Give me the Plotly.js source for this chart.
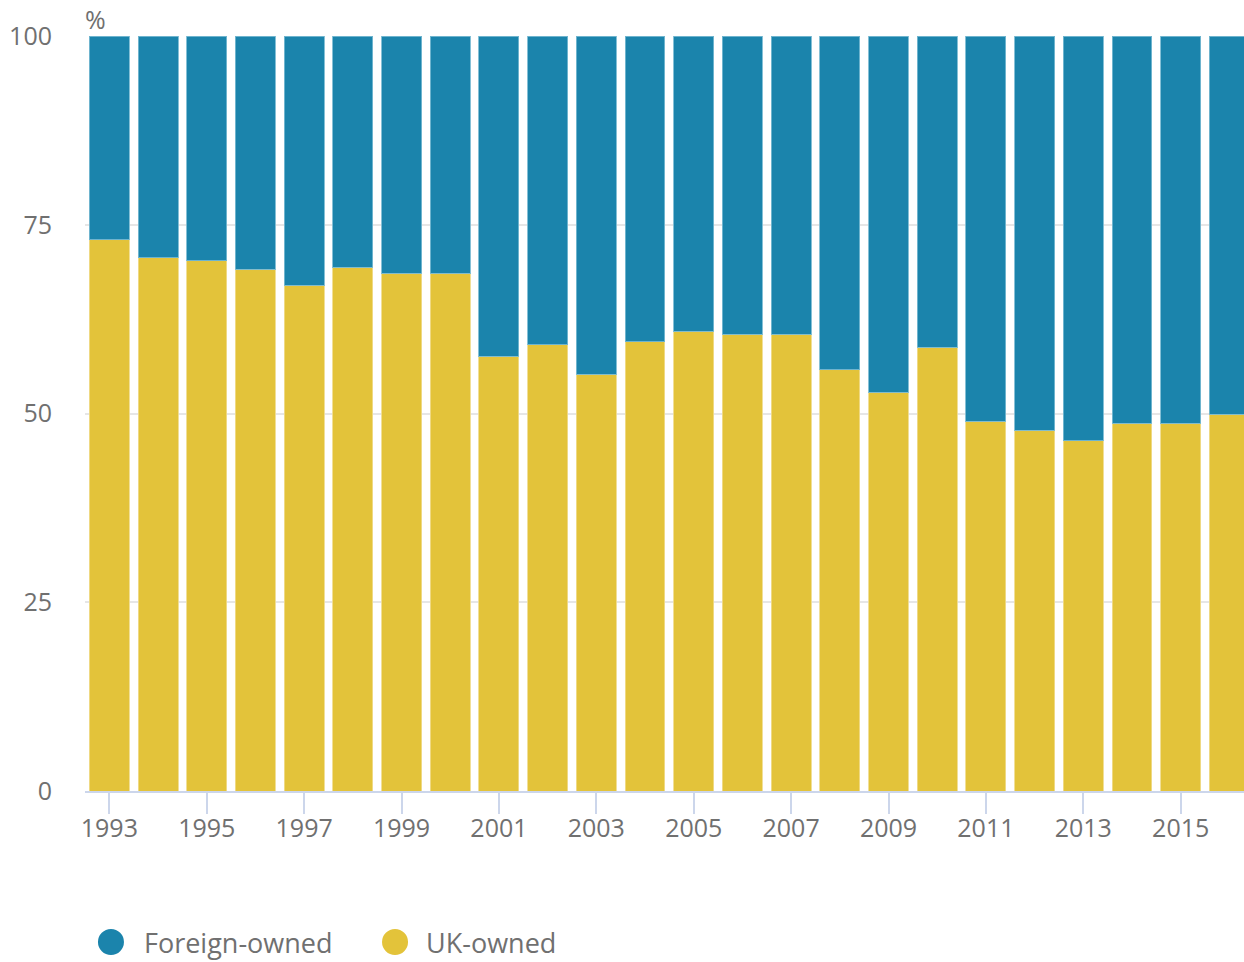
<!DOCTYPE html>
<html>
<head>
<meta charset="utf-8">
<script src="https://cdn.plot.ly/plotly-3.0.1.min.js"></script>
<style>html,body{margin:0;padding:0;background:#fff;overflow:hidden}</style>
</head>
<body>
<div id="chart" style="width:1244px;height:962px"></div>
<script>
const years = [1993,1994,1995,1996,1997,1998,1999,2000,2001,2002,2003,2004,2005,2006,2007,2008,2009,2010,2011,2012,2013,2014,2015,2016];
const ukOwned = [73.0,70.6,70.2,69.1,67.0,69.4,68.6,68.6,57.6,59.1,55.2,59.5,60.9,60.5,60.5,55.8,52.8,58.8,49.0,47.8,46.4,48.7,48.7,49.9];
const foreignOwned = ukOwned.map(v => +(100 - v).toFixed(1));
const seriesNames = ["Foreign-owned", "UK-owned"];
const blue = "rgb(27,132,172)";
const yellow = "rgb(227,195,58)";
const textGrey = "#707070";

const traces = [
  {type:"bar", x:years, y:ukOwned, name:seriesNames[1], showlegend:false,
   marker:{color:yellow, line:{color:"rgba(240,220,140,0.9)", width:1}}},
  {type:"bar", x:years, y:foreignOwned, name:seriesNames[0], showlegend:false,
   marker:{color:blue, line:{color:"rgba(120,185,210,0.9)", width:1}}}
];

// custom legend (large circular keys)
const legendItems = [
  {name:seriesNames[0], color:blue, cx:0.0224, tx:0.0492},
  {name:seriesNames[1], color:yellow, cx:0.2675, tx:0.2925}
];
const legY = -0.2;
const shapes = legendItems.map(it => ({
  type:"circle", xref:"paper", yref:"paper",
  xsizemode:"pixel", ysizemode:"pixel", xanchor:it.cx, yanchor:legY,
  x0:-13, x1:13, y0:-13, y1:13, fillcolor:it.color, line:{width:0}
}));
const annotations = legendItems.map(it => ({
  text:it.name, xref:"paper", yref:"paper", x:it.tx, y:legY,
  xanchor:"left", yanchor:"middle", showarrow:false,
  font:{size:27, color:textGrey}
}));
annotations.push({text:"%", xref:"paper", yref:"paper", x:0, y:1, xanchor:"left", yanchor:"bottom",
  xshift:-2, yshift:-2, showarrow:false, font:{size:25, color:textGrey}});

const layout = {
  width:1244, height:962,
  margin:{l:85, r:0, t:36, b:171},
  barmode:"stack", bargap:0.18,
  paper_bgcolor:"#fff", plot_bgcolor:"#fff",
  font:{family:"Open Sans", color:textGrey, size:25},
  showlegend:false,
  xaxis:{range:[1992.5,2016.3], tickmode:"linear", tick0:1993, dtick:2,
    showgrid:false, zeroline:false, showline:true, linecolor:"#ccd6eb", linewidth:2,
    ticks:"outside", ticklen:21, tickwidth:2, tickcolor:"#ccd6eb",
    ticklabelstandoff:-7,
    tickfont:{size:25, color:textGrey}, fixedrange:true},
  yaxis:{range:[0,100], tickvals:[0,25,50,75,100], showgrid:true, gridcolor:"#e6e6e6", gridwidth:2,
    zeroline:false, showline:false, ticks:"", ticklabelstandoff:32,
    tickfont:{size:25, color:textGrey}, fixedrange:true},
  shapes:shapes,
  annotations:annotations
};

Plotly.newPlot("chart", traces, layout, {displayModeBar:false, staticPlot:true});
</script>
</body>
</html>
